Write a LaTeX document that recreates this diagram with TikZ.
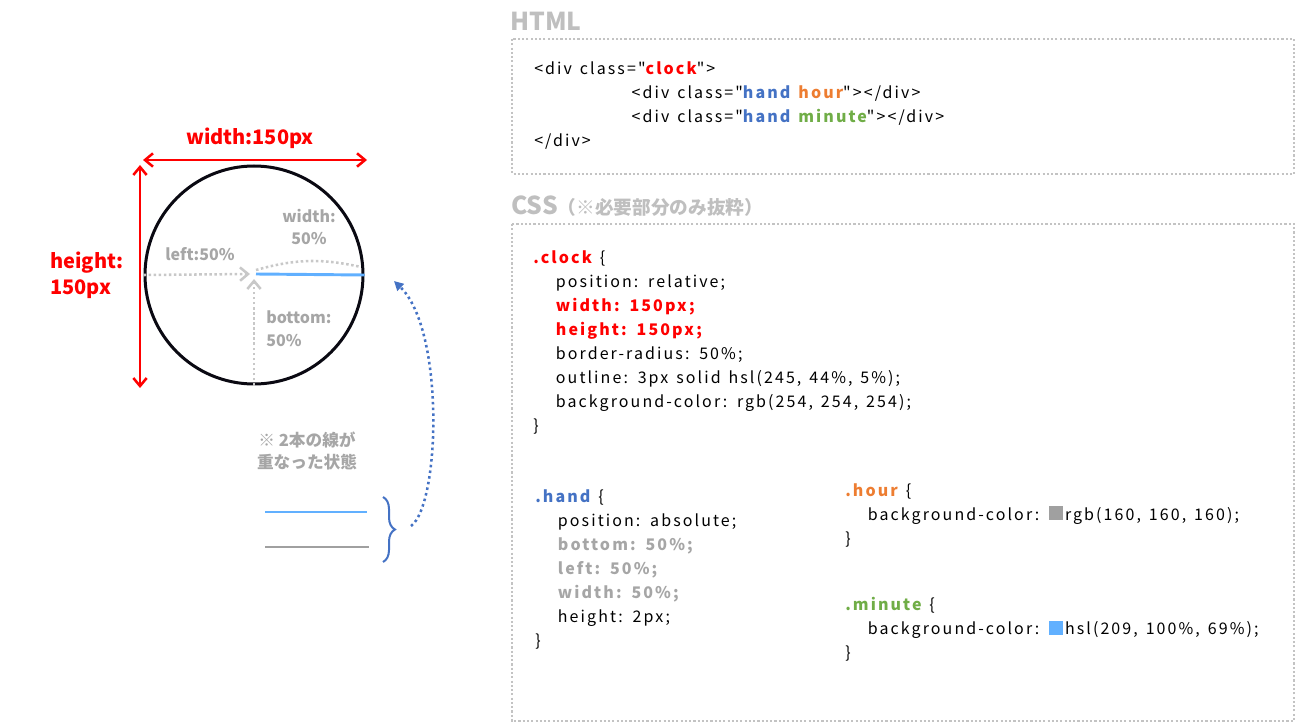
\documentclass[tikz,border=0pt]{standalone}
\usepackage{fontspec}
\setmainfont{Noto Sans CJK JP}[Ligatures=TeXOff]
\newfontfamily\codefont{Noto Sans CJK JP}[Ligatures=TeXOff, LetterSpace=13, WordSpace=1.4]
\usetikzlibrary{arrows.meta,decorations.pathreplacing,positioning}

\definecolor{cssred}{RGB}{255,0,0}
\definecolor{handblue}{RGB}{68,114,196}
\definecolor{hourorange}{RGB}{237,125,49}
\definecolor{minutegreen}{RGB}{112,173,71}
\definecolor{notegray}{RGB}{166,166,166}
\definecolor{titlegray}{RGB}{191,191,191}
\definecolor{boxgray}{RGB}{195,195,195}
\definecolor{guidegray}{RGB}{200,200,200}
\definecolor{hourgray}{RGB}{160,160,160}
\definecolor{minuteblue}{RGB}{97,176,255}
\definecolor{rimblack}{RGB}{10,9,18}

\tikzset{
  code/.style={anchor=north west, inner sep=0pt, align=left, font=\codefont\fontsize{12}{18}\selectfont},
  title/.style={anchor=west, inner sep=0pt, text=titlegray, font=\fontsize{18.5}{20}\selectfont\bfseries},
  codebox/.style={draw=boxgray, line width=1.6pt, dash pattern=on 1.6pt off 1.6pt},
  sizelabel/.style={text=cssred, inner sep=0pt, font=\fontsize{15}{19.5}\selectfont\bfseries},
  guidelabel/.style={text=notegray, inner sep=0pt, font=\fontsize{12}{17}\selectfont\bfseries},
  sizearrow/.style={draw=cssred, line width=1.9pt, {Straight Barb[length=6pt,width=10pt]}-{Straight Barb[length=6pt,width=10pt]}},
  guide/.style={draw=guidegray, line width=1.9pt, dash pattern=on 1.9pt off 1.9pt},
  guidetip/.style={-{Straight Barb[length=6pt,width=10pt]}},
  handline/.style={line width=2.2pt},
}
\newcommand{\swatch}[1]{\textcolor{#1}{\rule{10.5pt}{10.5pt}}\hspace{1.5pt}}
\newcommand{\ind}{\hspace*{17pt}}

\begin{document}
\begin{tikzpicture}[x=0.75pt,y=-0.75pt]
\useasboundingbox (0,0) rectangle (1301,727);

% clock
\node[circle, draw=rimblack, line width=2.25pt, minimum size=163.5pt, inner sep=0pt] (clock) at (254,275) {};
\coordinate (wl) at (143,160);
\coordinate (wr) at (367,160);
\coordinate (ht) at (140,165);
\coordinate (hb) at (140,388);
\coordinate (handstart) at (256,274);
\draw[sizearrow] (wl) -- (wr);
\draw[sizearrow] (ht) -- (hb);
\node[sizelabel] (wlabel) at (250,138) {width:150px};
\node[sizelabel, anchor=west, align=left] (hlabel) at (50,275) {height:\\150px};

\draw[guide, guidetip] (clock.west) -- (250,274);
\draw[guide, guidetip] (clock.south) -- (254,279);
\draw[guide] (256,270) to[bend left=14] (361,267);
\draw[handline, minuteblue] (handstart) -- (clock.east);
\node[guidelabel] (leftlabel) at (200,254) {left:50\%};
\node[guidelabel, align=center] (widthlabel) at (309,227) {width:\\50\%};
\node[guidelabel, anchor=west, align=left] (bottomlabel) at (266,329) {bottom:\\50\%};

% overlapped hands
\node[guidelabel, align=center, font=\fontsize{12.5}{17}\selectfont\bfseries] (note) at (307,451) {※ 2本の線が\\重なった状態};
\coordinate (mina) at (265,512);
\coordinate (minb) at (367,512);
\coordinate (houra) at (265,547);
\coordinate (hourb) at (369,547);
\draw[handline, minuteblue] (mina) -- (minb);
\draw[handline, hourgray] (houra) -- (hourb);
\coordinate (bracetop) at (383,497);
\coordinate (bracebot) at (383,562);
\draw[handblue, line width=1.5pt, decorate, decoration={brace, amplitude=9pt}] (bracetop) -- (bracebot);
\coordinate (linkstart) at (411,526);
\coordinate (linkend) at (394,281);
\draw[handblue, line width=1.9pt, dash pattern=on 1.9pt off 2.4pt, -{Triangle[length=7pt,width=7pt]}]
  (linkstart) .. controls (440,505) and (445,330) .. (linkend);

% HTML
\node[title] (htmltitle) at (510,21) {HTML};
\draw[codebox] (512,39) rectangle (1294,174);
\node[code] (html) at (534,61) {%
<div class="\textcolor{cssred}{\bfseries clock}">\\
\hspace*{73pt}<div class="\textcolor{handblue}{\bfseries hand} \textcolor{hourorange}{\bfseries hour}"></div>\\
\hspace*{73pt}<div class="\textcolor{handblue}{\bfseries hand} \textcolor{minutegreen}{\bfseries minute}"></div>\\
</div>};

% CSS
\node[title] (csstitle) at (511,206) {CSS{\fontsize{14}{16}\selectfont（※必要部分のみ抜粋）}};
\draw[codebox] (512,224) rectangle (1294,721);
\node[code] (clockcss) at (533,250) {%
\textcolor{cssred}{\bfseries .clock} \{\\
\ind position: relative;\\
\ind\textcolor{cssred}{\bfseries width: 150px;}\\
\ind\textcolor{cssred}{\bfseries height: 150px;}\\
\ind border-radius: 50\%;\\
\ind outline: 3px solid hsl(245, 44\%, 5\%);\\
\ind background-color: rgb(254, 254, 254);\\
\}};
\node[code] (handcss) at (535,489) {%
\textcolor{handblue}{\bfseries .hand} \{\\
\ind position: absolute;\\
\ind\textcolor{notegray}{\bfseries bottom: 50\%;}\\
\ind\textcolor{notegray}{\bfseries left: 50\%;}\\
\ind\textcolor{notegray}{\bfseries width: 50\%;}\\
\ind height: 2px;\\
\}};
\node[code] (hourcss) at (845,483) {%
\textcolor{hourorange}{\bfseries .hour} \{\\
\ind background-color: \swatch{hourgray}rgb(160, 160, 160);\\
\}};
\node[code] (minutecss) at (845,597) {%
\textcolor{minutegreen}{\bfseries .minute} \{\\
\ind background-color: \swatch{minuteblue}hsl(209, 100\%, 69\%);\\
\}};
\end{tikzpicture}
\end{document}
